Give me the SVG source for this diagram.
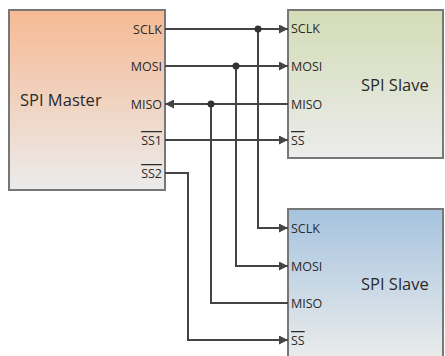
<svg xmlns="http://www.w3.org/2000/svg" width="445" height="356" viewBox="0 0 445 356">
<defs>
<linearGradient id="gm" x1="0" y1="0" x2="0" y2="1"><stop offset="0" stop-color="#f6ba94"/><stop offset="1" stop-color="#ebebeb"/></linearGradient>
<linearGradient id="gs1" x1="0" y1="0" x2="0" y2="1"><stop offset="0" stop-color="#d3dcb6"/><stop offset="1" stop-color="#ececec"/></linearGradient>
<linearGradient id="gs2" x1="0" y1="0" x2="0" y2="1"><stop offset="0" stop-color="#a6c3df"/><stop offset="1" stop-color="#efefec"/></linearGradient>
<marker id="ar" viewBox="0 0 10 10" refX="10" refY="5" markerWidth="4.5" markerHeight="4.5" orient="auto" markerUnits="strokeWidth"><path d="M0,0 L10,5 L0,10 z" fill="#444"/></marker>
</defs>
<style>
.box{stroke:#777;stroke-width:2}
.pin{font-family:"Open Sans","Liberation Sans",sans-serif;font-size:12.5px;fill:#2a2a2a}
.lbl{font-family:"Open Sans","Liberation Sans",sans-serif;font-size:16.5px;fill:#2a2a2a}
.w{fill:none;stroke:#444;stroke-width:2}
.d{fill:#333}
.ol{text-decoration:overline}
</style>
<g id="master">
<rect class="box" x="9" y="10" width="156" height="180" fill="url(#gm)"/>
<text class="lbl" x="20" y="106">SPI Master</text>
<text class="pin" x="162" y="33.5" text-anchor="end">SCLK</text>
<text class="pin" x="162" y="70.5" text-anchor="end">MOSI</text>
<text class="pin" x="162" y="108.5" text-anchor="end">MISO</text>
<text class="pin ol" x="162" y="145" text-anchor="end">SS1</text>
<text class="pin ol" x="162" y="178" text-anchor="end">SS2</text>
</g>
<g id="slave1">
<rect class="box" x="288" y="10" width="155" height="148" fill="url(#gs1)"/>
<text class="lbl" x="361" y="91">SPI Slave</text>
<text class="pin" x="291" y="32.5">SCLK</text>
<text class="pin" x="291" y="70.5">MOSI</text>
<text class="pin" x="291" y="108.5">MISO</text>
<text class="pin ol" x="291" y="145">SS</text>
</g>
<g id="slave2">
<rect class="box" x="288" y="209" width="155" height="160" fill="url(#gs2)"/>
<text class="lbl" x="361" y="290">SPI Slave</text>
<text class="pin" x="291" y="232.5">SCLK</text>
<text class="pin" x="291" y="270.5">MOSI</text>
<text class="pin" x="291" y="307.5">MISO</text>
<text class="pin ol" x="291" y="345">SS</text>
</g>
<g id="connectors">
<path class="w" d="M165,29 H288" marker-end="url(#ar)"/>
<path class="w" d="M258,29 V228 H288" marker-end="url(#ar)"/>
<path class="w" d="M165,66 H288" marker-end="url(#ar)"/>
<path class="w" d="M236,66 V266 H288" marker-end="url(#ar)"/>
<path class="w" d="M288,104 H165" marker-end="url(#ar)"/>
<path class="w" d="M211,104 V303 H288"/>
<path class="w" d="M165,140 H288" marker-end="url(#ar)"/>
<path class="w" d="M165,173 H188 V340 H288" marker-end="url(#ar)"/>
<circle class="d" cx="258" cy="29" r="3.5"/>
<circle class="d" cx="236" cy="66" r="3.5"/>
<circle class="d" cx="211" cy="104" r="3.5"/>
</g>
</svg>
